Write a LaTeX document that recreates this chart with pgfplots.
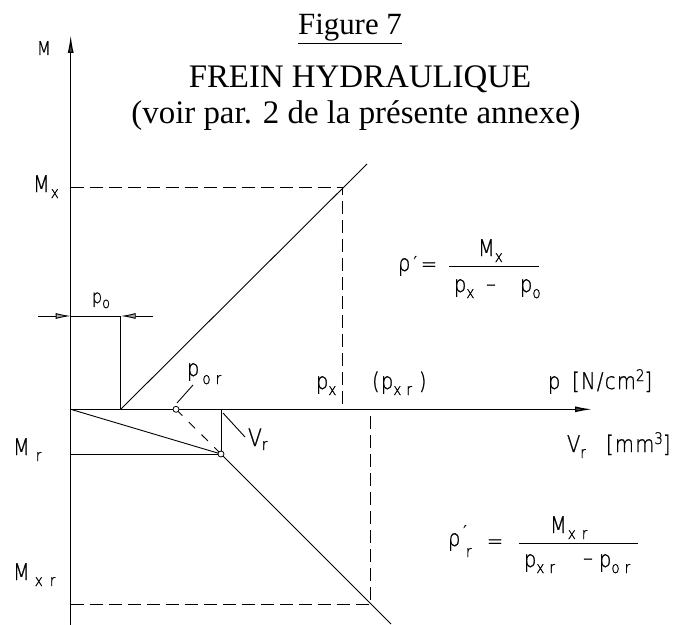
\documentclass[border=0pt]{standalone}
\usepackage{fontspec}
\setmainfont{Liberation Serif}
\newfontfamily\iso[FakeStretch=0.85,LetterSpace=6,FakeBold=1]{DejaVu Sans ExtraLight}
\newfontfamily\isoreg{DejaVu Sans}
\usepackage{pgfplots}
\pgfplotsset{compat=1.18}
\usetikzlibrary{arrows.meta}
\newcommand\F[1]{\iso\fontsize{#1}{#1}\selectfont}
\newcommand\sub[1]{\raisebox{-6bp}{\F{16}#1}}
\newcommand\prm{{\isoreg\fontsize{18}{18}\selectfont ′}}
\tikzset{lab/.style={anchor=base west, inner sep=0pt, outer sep=0pt},
  dsh/.style={dash pattern=on 13bp off 6bp}}
\begin{document}
\begin{tikzpicture}
\begin{axis}[width=675bp, height=625bp, scale only axis,
  xmin=0, xmax=675, ymin=0, ymax=625, y dir=reverse,
  hide axis, clip=false, no markers,
  cycle list={{black}},
  every axis plot/.append style={black, line width=0.9bp}]
% axes
\addplot[line width=1.3bp, -{Latex[length=18bp,width=6bp,fill=black!70]}] coordinates {(70.7,625) (70.7,35)};
\addplot[line width=1.3bp, -{Latex[length=17bp,width=6bp,fill=black!70]}] coordinates {(70.7,409.3) (592,409.3)};
% upper characteristic
\addplot coordinates {(120.7,409.3) (367,164)};
\addplot coordinates {(120.7,316) (120.7,409.3)};
\addplot[dsh] coordinates {(70.7,187.7) (342.5,187.7) (342.5,409.3)};
% p0 dimension
\addplot coordinates {(70.7,316) (120.7,316)};
\addplot[-{Latex[length=15bp,width=6bp,fill=black!35]}] coordinates {(38,316) (70.7,316)};
\addplot[-{Latex[length=15bp,width=6bp,fill=black!35]}] coordinates {(153,316) (120.7,316)};
% lower characteristic
\addplot coordinates {(70.7,409.3) (221,454)};
\addplot coordinates {(70.7,454) (221,454)};
\addplot coordinates {(221,409.3) (221,454)};
\addplot coordinates {(221,454) (391,624)};
\addplot[dash pattern=on 9bp off 9bp] coordinates {(176,409.3) (221,454)};
\addplot[dsh] coordinates {(70.7,604) (370.5,604) (370.5,409.3)};
% leaders
\addplot coordinates {(177,403) (193,385)};
\addplot coordinates {(223,413) (245,437)};
% fraction bars
\addplot coordinates {(449,266) (539,266)};
\addplot coordinates {(519,543) (638,543)};
% points
\addplot[only marks, mark=*, mark size=3bp, mark options={fill=white, draw=black, line width=0.8bp}] coordinates {(176,409.3) (221,454)};
% titles
\node[anchor=base, inner sep=0pt] at (axis cs:350,35) {\fontsize{31}{31}\selectfont\underline{Figure 7}};
\node[anchor=base, inner sep=0pt] at (axis cs:360,88) {\fontsize{33}{33}\selectfont FREIN HYDRAULIQUE};
\node[anchor=base, inner sep=0pt] at (axis cs:356,123) {\fontsize{33}{33}\selectfont (voir par. 2 de la présente annexe)};
% labels
\node[lab] at (axis cs:37,55) {\F{19}M};
\node[lab] at (axis cs:33,192) {\F{23}M\hspace{1bp}\sub{x}};
\node[lab] at (axis cs:13,455) {\F{23}M\hspace{6bp}\sub{r}};
\node[lab] at (axis cs:13,580) {\F{23}M\hspace{5bp}\sub{x\hspace{7bp}r}};
\node[lab] at (axis cs:92,303) {\F{19}p\raisebox{-5bp}{\F{15}o}};
\node[lab] at (axis cs:187,376) {\F{23}p\hspace{3bp}\raisebox{-8bp}{\F{16}o\hspace{5bp}r}};
\node[lab] at (axis cs:316,389) {\F{23}p\sub{x}};
\node[lab] at (axis cs:372,389) {\F{23}(p\sub{x\hspace{5bp}r}\hspace{7bp})};
\node[lab] at (axis cs:548,389) {\F{23}p};
\node[lab] at (axis cs:572,389) {\F{23}[N/cm\raisebox{8bp}{\F{16}2}]};
\node[lab] at (axis cs:567,452) {\F{23}V\sub{r}};
\node[lab] at (axis cs:606,452) {\F{23}[mm\raisebox{8bp}{\F{16}3}]};
\node[lab] at (axis cs:248,446) {\F{24}V\raisebox{-4bp}{\F{16}r}};
% formula 1
\node[lab] at (axis cs:398,271) {\F{23}ρ\hspace{3bp}\raisebox{2bp}{\prm}};
\node[inner sep=0pt] at (axis cs:429,267) {\F{23}=};
\node[lab] at (axis cs:478,256) {\F{23}M\sub{x}};
\node[lab] at (axis cs:454,292) {\F{23}p\sub{x}};
\node[inner sep=0pt] at (axis cs:491,288) {\F{23}–};
\node[lab] at (axis cs:520,292) {\F{23}p\sub{o}};
% formula 2
\node[lab] at (axis cs:448,546) {\F{23}ρ};
\node[lab] at (axis cs:463,538) {\prm};
\node[lab] at (axis cs:466,557) {\F{16}r};
\node[inner sep=0pt] at (axis cs:495,544) {\F{23}=};
\node[lab] at (axis cs:550,533) {\F{23}M\hspace{1bp}\sub{x\hspace{6bp}r}};
\node[lab] at (axis cs:524,567) {\F{23}p\sub{x\hspace{5bp}r}};
\node[inner sep=0pt] at (axis cs:588,562) {\F{23}–};
\node[lab] at (axis cs:599,567) {\F{23}p\sub{o\hspace{5bp}r}};
\end{axis}
\pgfresetboundingbox
\path (current axis.south west) rectangle (current axis.north east);
\end{tikzpicture}
\end{document}
